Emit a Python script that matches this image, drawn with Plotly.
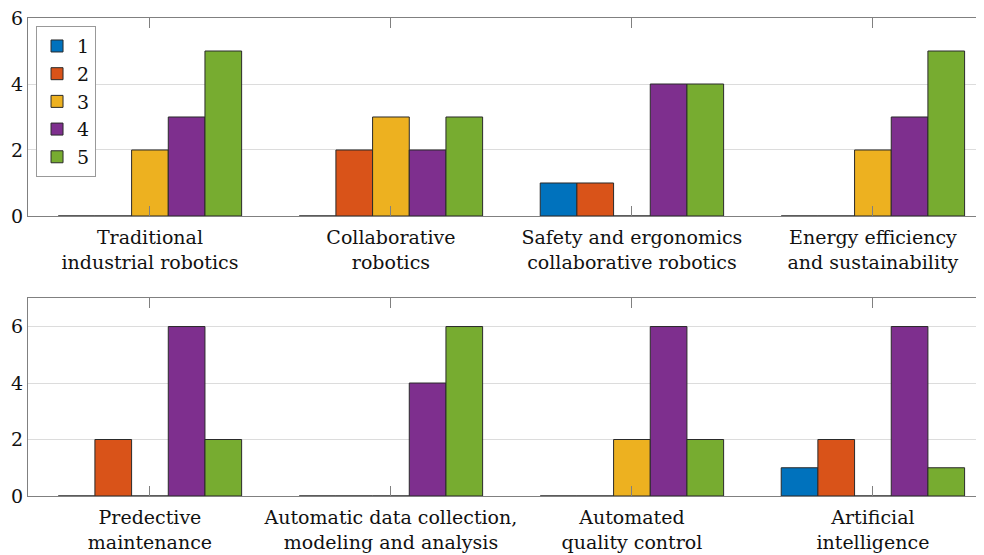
import plotly.graph_objects as go
from plotly.subplots import make_subplots

top_categories = ["Traditional<br>industrial robotics", "Collaborative<br>robotics",
                  "Safety and ergonomics<br>collaborative robotics", "Energy efficiency<br>and sustainability"]
bottom_categories = ["Predective<br>maintenance", "Automatic data collection,<br>modeling and analysis",
                     "Automated<br>quality control", "Artificial<br>intelligence"]
series_names = ["1", "2", "3", "4", "5"]
top_values = [
    [0, 0, 1, 0],
    [0, 2, 1, 0],
    [2, 3, 0, 2],
    [3, 2, 4, 3],
    [5, 3, 4, 5],
]
bottom_values = [
    [0, 0, 0, 1],
    [2, 0, 0, 2],
    [0, 0, 2, 0],
    [6, 4, 6, 6],
    [2, 6, 2, 1],
]
colors = ["#0072BD", "#D95319", "#EDB120", "#7E2F8E", "#77AC30"]
top_yticks = [0, 2, 4, 6]
bottom_yticks = [0, 2, 4, 6]

FONT = "DejaVu Serif"

fig = make_subplots(rows=2, cols=1, vertical_spacing=0.172)

for i, name in enumerate(series_names):
    fig.add_trace(go.Bar(x=top_categories, y=top_values[i], name=name,
                         marker=dict(color=colors[i], line=dict(color="#2a2a2a", width=1)),
                         legendgroup=name, showlegend=True), row=1, col=1)
    fig.add_trace(go.Bar(x=bottom_categories, y=bottom_values[i], name=name,
                         marker=dict(color=colors[i], line=dict(color="#2a2a2a", width=1)),
                         legendgroup=name, showlegend=False), row=2, col=1)

axis_common = dict(showline=True, linecolor="#808080", linewidth=1.3, mirror="ticks",
                   ticks="inside", ticklen=10, tickcolor="#808080", tickwidth=1.3,
                   showgrid=False, range=[-0.506, 3.461], ticklabelstandoff=4,
                   tickfont=dict(family=FONT, size=19, color="#111"))
fig.update_xaxes(**axis_common, row=1, col=1)
fig.update_xaxes(**axis_common, row=2, col=1)

yaxis_common = dict(showline=True, linecolor="#808080", linewidth=1.3,
                    ticks="", showgrid=True, gridcolor="#dcdcdc", gridwidth=1,
                    zeroline=False, ticklabeloverflow="allow",
                    tickfont=dict(family=FONT, size=19, color="#111"))
fig.update_yaxes(**yaxis_common, range=[0, 6], tickvals=top_yticks, row=1, col=1)
fig.update_yaxes(**yaxis_common, range=[0, 7], tickvals=bottom_yticks, row=2, col=1)

fig.update_layout(
    width=976, height=547,
    margin=dict(l=20, r=0, t=10, b=59),
    barmode="group", bargap=0.239, bargroupgap=0,
    plot_bgcolor="white", paper_bgcolor="white",
    font=dict(family=FONT, size=19, color="#111"),
    legend=dict(x=0.0084, y=0.983, xanchor="left", yanchor="top",
                bgcolor="white", bordercolor="#999", borderwidth=1,
                font=dict(family=FONT, size=19, color="#111"),
                tracegroupgap=0, itemwidth=30),
)
fig.layout.yaxis.domain = [0.5858, 1.0]
fig.layout.yaxis2.domain = [0.0, 0.4136]

fig.write_html("out.html")
